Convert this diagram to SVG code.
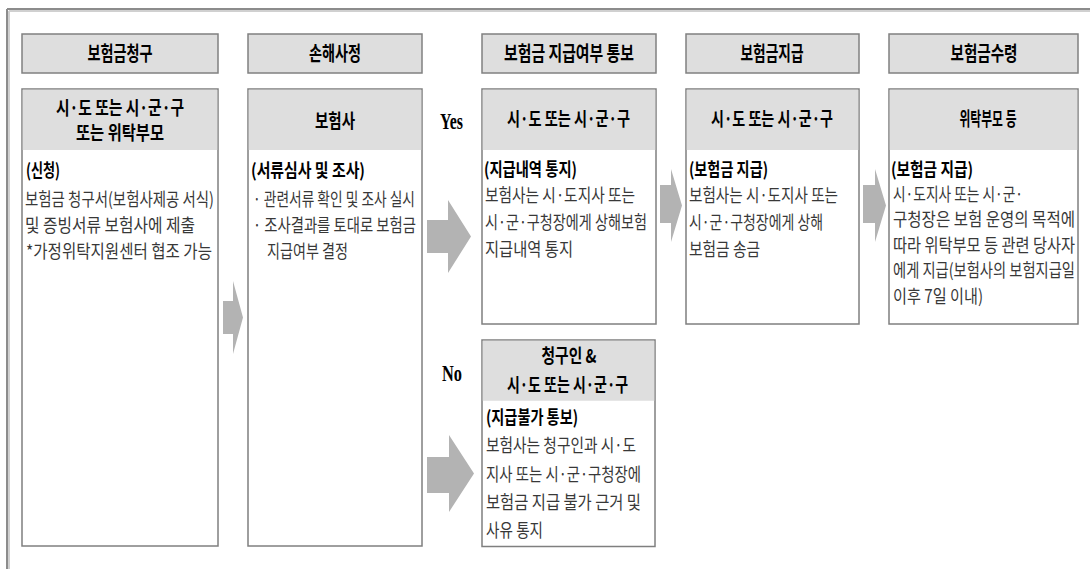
<svg xmlns="http://www.w3.org/2000/svg" width="1090" height="569" viewBox="0 0 1090 569">
<style>
.bg{fill:#ffffff}
.hbar{fill:#dedede;stroke:#808080;stroke-width:1.5}
.box{fill:#ffffff;stroke:#7f7f7f;stroke-width:1.5}
.band{fill:#dedede}
.arr{fill:#b3b3b3}
text{font-family:"Noto Sans CJK KR","Noto Sans",sans-serif}
.h{font-size:20px;font-weight:bold;fill:#000;text-anchor:middle}
.t{font-size:19px;font-weight:bold;fill:#000;text-anchor:middle}
.s{font-size:18px;font-weight:bold;fill:#000}
.b{font-size:18px;fill:#383838}
.yn{font-family:"Liberation Serif","Times New Roman",serif;font-size:24px;font-weight:bold;fill:#000}
</style>
<rect class="bg" x="0" y="0" width="1090" height="569"/>
<g id="frame">
<line x1="7" y1="9" x2="1090" y2="9" stroke="#8c8c8c" stroke-width="2"/>
<line x1="9" y1="11" x2="1090" y2="11" stroke="#d0d0d0" stroke-width="2"/>
<line x1="7" y1="9" x2="7" y2="569" stroke="#8c8c8c" stroke-width="2"/>
<line x1="9" y1="11" x2="9" y2="569" stroke="#d0d0d0" stroke-width="2"/>
</g>
<g id="headers">
<g id="h1"><rect class="hbar" x="22" y="34" width="196" height="39"/><text class="h" x="120" y="61" textLength="65" lengthAdjust="spacingAndGlyphs">보험금청구</text></g>
<g id="h2"><rect class="hbar" x="248" y="34" width="174" height="39"/><text class="h" x="335" y="61" textLength="52" lengthAdjust="spacingAndGlyphs">손해사정</text></g>
<g id="h3"><rect class="hbar" x="482" y="34" width="174" height="39"/><text class="h" x="569" y="61" textLength="130" lengthAdjust="spacingAndGlyphs">보험금 지급여부 통보</text></g>
<g id="h4"><rect class="hbar" x="686" y="34" width="173" height="39"/><text class="h" x="772" y="61" textLength="63" lengthAdjust="spacingAndGlyphs">보험금지급</text></g>
<g id="h5"><rect class="hbar" x="889" y="34" width="189" height="39"/><text class="h" x="984" y="61" textLength="67" lengthAdjust="spacingAndGlyphs">보험금수령</text></g>
</g>
<g id="box1">
<rect class="box" x="22" y="89" width="196" height="457"/>
<rect class="band" x="22.75" y="89.75" width="194.5" height="60.25"/>
<text class="t" x="120" y="114.5" textLength="128" lengthAdjust="spacingAndGlyphs">시·도 또는 시·군·구</text>
<text class="t" x="120" y="140" textLength="88" lengthAdjust="spacingAndGlyphs">또는 위탁부모</text>
<text class="s" x="26" y="177" textLength="34" lengthAdjust="spacingAndGlyphs">(신청)</text>
<text class="b" x="25" y="206" textLength="189" lengthAdjust="spacingAndGlyphs">보험금 청구서(보험사제공 서식)</text>
<text class="b" x="25" y="231.5" textLength="170" lengthAdjust="spacingAndGlyphs">및 증빙서류 보험사에 제출</text>
<text class="b" x="26" y="257.5" textLength="186" lengthAdjust="spacingAndGlyphs">*가정위탁지원센터 협조 가능</text>
</g>
<g id="box2">
<rect class="box" x="248" y="89" width="174" height="457"/>
<rect class="band" x="248.75" y="89.75" width="172.5" height="60.25"/>
<text class="t" x="335" y="128" textLength="40" lengthAdjust="spacingAndGlyphs">보험사</text>
<text class="s" x="251" y="177" textLength="114" lengthAdjust="spacingAndGlyphs">(서류심사 및 조사)</text>
<text class="b" x="253" y="205.5" textLength="162" lengthAdjust="spacingAndGlyphs">· 관련서류 확인 및 조사 실시</text>
<text class="b" x="253" y="231.5" textLength="163" lengthAdjust="spacingAndGlyphs">· 조사결과를 토대로 보험금</text>
<text class="b" x="267" y="257.5" textLength="81" lengthAdjust="spacingAndGlyphs">지급여부 결정</text>
</g>
<g id="box3">
<rect class="box" x="482" y="89" width="174" height="235"/>
<rect class="band" x="482.75" y="89.75" width="172.5" height="60.25"/>
<text class="t" x="568.5" y="126" textLength="123" lengthAdjust="spacingAndGlyphs">시·도 또는 시·군·구</text>
<text class="s" x="484" y="176" textLength="93" lengthAdjust="spacingAndGlyphs">(지급내역 통지)</text>
<text class="b" x="485" y="202" textLength="150" lengthAdjust="spacingAndGlyphs">보험사는 시·도지사 또는</text>
<text class="b" x="485" y="229" textLength="162" lengthAdjust="spacingAndGlyphs">시·군·구청장에게 상해보험</text>
<text class="b" x="485" y="256" textLength="88" lengthAdjust="spacingAndGlyphs">지급내역 통지</text>
</g>
<g id="box4">
<rect class="box" x="686" y="89" width="173" height="235"/>
<rect class="band" x="686.75" y="89.75" width="171.5" height="60.25"/>
<text class="t" x="772" y="126" textLength="122" lengthAdjust="spacingAndGlyphs">시·도 또는 시·군·구</text>
<text class="s" x="689" y="176" textLength="79" lengthAdjust="spacingAndGlyphs">(보험금 지급)</text>
<text class="b" x="689" y="202" textLength="149" lengthAdjust="spacingAndGlyphs">보험사는 시·도지사 또는</text>
<text class="b" x="689" y="229" textLength="134" lengthAdjust="spacingAndGlyphs">시·군·구청장에게 상해</text>
<text class="b" x="689" y="256" textLength="71" lengthAdjust="spacingAndGlyphs">보험금 송금</text>
</g>
<g id="box5">
<rect class="box" x="889" y="89" width="189" height="235"/>
<rect class="band" x="889.75" y="89.75" width="187.5" height="60.25"/>
<text class="t" x="988" y="126" textLength="57" lengthAdjust="spacingAndGlyphs">위탁부모 등</text>
<text class="s" x="891" y="176" textLength="82" lengthAdjust="spacingAndGlyphs">(보험금 지급)</text>
<text class="b" x="893" y="200.5" textLength="130" lengthAdjust="spacingAndGlyphs">시·도지사 또는 시·군·</text>
<text class="b" transform="translate(893,226) scale(0.8,1)" x="0" y="0" textLength="227.5" lengthAdjust="spacingAndGlyphs">구청장은 보험 운영의 목적에</text>
<text class="b" transform="translate(893,251.5) scale(0.8,1)" x="0" y="0" textLength="227.5" lengthAdjust="spacingAndGlyphs">따라 위탁부모 등 관련 당사자</text>
<text class="b" transform="translate(893,277) scale(0.8,1)" x="0" y="0" textLength="227.5" lengthAdjust="spacingAndGlyphs">에게 지급(보험사의 보험지급일</text>
<text class="b" x="893" y="303" textLength="90" lengthAdjust="spacingAndGlyphs">이후 7일 이내)</text>
</g>
<g id="boxNo">
<rect class="box" x="482" y="340" width="173" height="206.5"/>
<rect class="band" x="482.75" y="340.75" width="171.5" height="60"/>
<text class="t" x="569" y="362.5" textLength="55" lengthAdjust="spacingAndGlyphs">청구인 &amp;</text>
<text class="t" x="567.5" y="391.5" textLength="121" lengthAdjust="spacingAndGlyphs">시·도 또는 시·군·구</text>
<text class="s" x="486" y="424" textLength="92" lengthAdjust="spacingAndGlyphs">(지급불가 통보)</text>
<text class="b" x="486" y="452" textLength="150" lengthAdjust="spacingAndGlyphs">보험사는 청구인과 시·도</text>
<text class="b" x="486" y="480.5" textLength="155" lengthAdjust="spacingAndGlyphs">지사 또는 시·군·구청장에</text>
<text class="b" x="486" y="509" textLength="155" lengthAdjust="spacingAndGlyphs">보험금 지급 불가 근거 및</text>
<text class="b" x="486" y="537" textLength="57" lengthAdjust="spacingAndGlyphs">사유 통지</text>
</g>
<g id="labels">
<text class="yn" x="440" y="128.5" textLength="23" lengthAdjust="spacingAndGlyphs">Yes</text>
<text class="yn" x="442" y="380.5" textLength="20" lengthAdjust="spacingAndGlyphs">No</text>
</g>
<g id="connectors">
<polygon class="arr" points="223,301 233,301 233,281 243,317.5 233,354 233,334 223,334"/>
<polygon class="arr" points="427,220 448,220 448,200 471,236.5 448,273 448,253 427,253"/>
<polygon class="arr" points="427,457 449,457 449,435 474,473.5 449,512 449,493 427,493"/>
<polygon class="arr" points="660,185 671,185 671,169 682,205.5 671,242 671,223 660,223"/>
<polygon class="arr" points="863,185 875,185 875,169 886,205.5 875,242 875,223 863,223"/>
</g>
</svg>
